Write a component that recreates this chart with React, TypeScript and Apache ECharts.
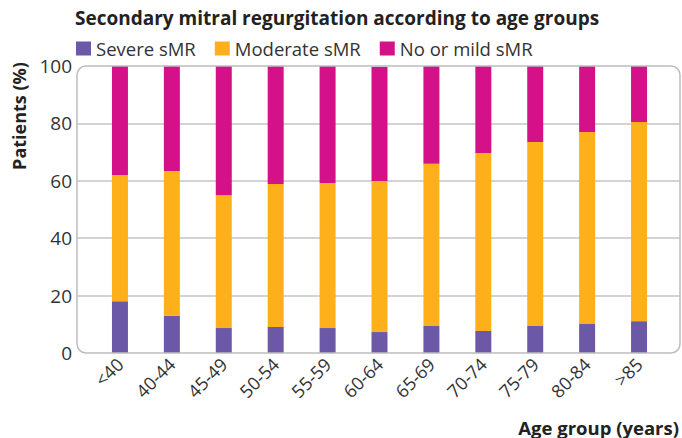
import React, { useEffect, useRef } from "react";
import * as echarts from "echarts";

const categories = ["<40", "40-44", "45-49", "50-54", "55-59", "60-64", "65-69", "70-74", "75-79", "80-84", ">85"];
const severe = [18, 13, 8.7, 9.1, 8.7, 7.3, 9.4, 7.7, 9.4, 10.1, 11.1];
const moderate = [44, 50.4, 46.3, 49.8, 50.5, 52.6, 56.5, 62, 64.1, 66.9, 69.4];
const mild = [38, 36.6, 45, 41.1, 40.8, 39.8, 34.1, 30.3, 26.5, 23, 19.5];
const yTicks = { min: 0, max: 100, interval: 20 };

const FONT = "'Open Sans'";
const TEXT = "#333333";

export default function App() {
  const ref = useRef<HTMLDivElement>(null);
  useEffect(() => {
    if (!ref.current) return;
    const chart = echarts.init(ref.current, undefined, { renderer: "svg" });
    chart.setOption({
      animation: false,
      textStyle: { fontFamily: FONT },
      title: {
        text: "Secondary mitral regurgitation according to age groups",
        left: 75,
        top: 8,
        padding: 0,
        textStyle: { fontFamily: FONT, fontSize: 19, fontWeight: "bold", color: "#222" },
      },
      legend: {
        left: 76,
        top: 39,
        padding: 0,
        icon: "rect",
        itemWidth: 15,
        itemHeight: 14,
        itemGap: 19,
        textStyle: { fontFamily: FONT, fontSize: 18.5, color: TEXT, padding: [0, 0, 0, 0] },
        data: ["Severe sMR", "Moderate sMR", "No or mild sMR"],
      },
      grid: [
        { left: 77, right: 2, top: 66, bottom: 85 },
        { left: 94, right: 17, top: 66, bottom: 85 },
      ],
      xAxis: [
        { type: "value", gridIndex: 0, show: false, min: 0, max: 1 },
        {
          type: "category",
          gridIndex: 1,
          data: categories,
          axisLine: { show: false },
          axisTick: { show: false },
          axisLabel: { rotate: 45, fontSize: 18, color: TEXT, margin: 8, fontFamily: FONT },
        },
      ],
      yAxis: [
        {
          type: "value",
          gridIndex: 0,
          ...yTicks,
          axisLine: { show: false },
          axisTick: { show: false },
          axisLabel: { fontSize: 19, color: TEXT, margin: 5, fontFamily: FONT },
          splitLine: { show: true, showMinLine: false, showMaxLine: false, lineStyle: { color: "#c4c4c4", width: 1.5 } },
        },
        { type: "value", gridIndex: 1, ...yTicks, show: false, splitLine: { show: false } },
      ],
      series: [
        { name: "Severe sMR", type: "bar", stack: "a", xAxisIndex: 1, yAxisIndex: 1, barWidth: 16, itemStyle: { color: "#6B58A6" }, data: severe },
        { name: "Moderate sMR", type: "bar", stack: "a", xAxisIndex: 1, yAxisIndex: 1, barWidth: 16, itemStyle: { color: "#FDB01A" }, data: moderate },
        { name: "No or mild sMR", type: "bar", stack: "a", xAxisIndex: 1, yAxisIndex: 1, barWidth: 16, itemStyle: { color: "#D5118A" }, data: mild },
      ],
      graphic: [
        {
          type: "rect",
          silent: true,
          z: 10,
          shape: { x: 77, y: 66, width: 603, height: 287, r: 9 },
          style: { fill: "none", stroke: "#bdbdbd", lineWidth: 1.5 },
        },
        {
          type: "text",
          x: 19,
          y: 116,
          rotation: Math.PI / 2,
          style: { text: "Patients (%)", font: `bold 18px ${FONT}`, fill: "#222", align: "center", verticalAlign: "middle" },
        },
        {
          type: "text",
          x: 679,
          y: 427,
          style: { text: "Age group (years)", font: `bold 18.5px ${FONT}`, fill: "#222", align: "right", verticalAlign: "middle" },
        },
      ],
    });
    return () => chart.dispose();
  }, []);
  return <div ref={ref} style={{ position: "absolute", left: 0, top: 0, width: 682, height: 438 }} />;
}
